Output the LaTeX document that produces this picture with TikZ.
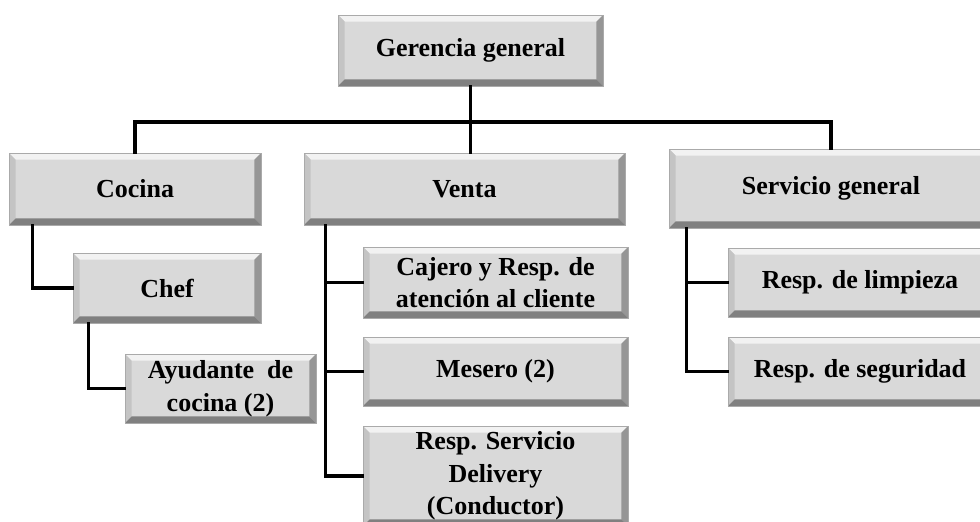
\documentclass[tikz,border=0pt]{standalone}
\usepackage{fontspec}
\setmainfont{Liberation Serif}
\usetikzlibrary{positioning}

\definecolor{boxface}{RGB}{217,217,217}
\definecolor{bevtop}{RGB}{242,242,242}
\definecolor{bevleft}{RGB}{196,196,196}
\definecolor{bevright}{RGB}{150,150,150}
\definecolor{bevbottom}{RGB}{128,128,128}
\definecolor{boxrim}{RGB}{170,170,170}
\newcommand{\bevw}{5pt}

\begin{document}
\begin{tikzpicture}[x=0.75pt,y=-0.75pt]
\tikzset{
  orgbox/.style={draw=boxrim,line width=0.5pt,fill=boxface,inner sep=2pt,align=center,
    font=\bfseries\fontsize{19.5}{24.5}\selectfont,
    path picture={
      \fill[bevtop] (path picture bounding box.north west) -- (path picture bounding box.north east)
        -- ([shift={(-\bevw,-\bevw)}]path picture bounding box.north east)
        -- ([shift={(\bevw,-\bevw)}]path picture bounding box.north west) -- cycle;
      \fill[bevleft] (path picture bounding box.north west) -- (path picture bounding box.south west)
        -- ([shift={(\bevw,\bevw)}]path picture bounding box.south west)
        -- ([shift={(\bevw,-\bevw)}]path picture bounding box.north west) -- cycle;
      \fill[bevright] (path picture bounding box.north east) -- (path picture bounding box.south east)
        -- ([shift={(-\bevw,\bevw)}]path picture bounding box.south east)
        -- ([shift={(-\bevw,-\bevw)}]path picture bounding box.north east) -- cycle;
      \fill[bevbottom] (path picture bounding box.south west) -- (path picture bounding box.south east)
        -- ([shift={(-\bevw,\bevw)}]path picture bounding box.south east)
        -- ([shift={(\bevw,\bevw)}]path picture bounding box.south west) -- cycle;
    }},
  boxsize/.style 2 args={minimum width=#1*0.75pt,minimum height=#2*0.75pt},
  orgline/.style={draw=black,line width=2.4pt,line cap=rect}
}
\useasboundingbox (0,0) rectangle (980,521);
\clip (0,0) rectangle (980,521);
\fill[white] (0,0) rectangle (980,521);

% top level
\node[orgbox,boxsize={265}{71}] (ger) at (470.5,50.5) {Gerencia general};

% departments
\node[orgbox,boxsize={252}{72}] (coc) at (135,189) {Cocina};
\node[orgbox,boxsize={321}{72}] (ven) at (464.5,189) {Venta};
\node[orgbox,boxsize={324}{79}] (ser) at (831,188.5) {Servicio general};

% cocina
\node[orgbox,boxsize={188}{70}] (chef) at (167,288) {Chef};
\node[orgbox,boxsize={191}{69}] (ayu) at (220.5,388.5) {Ayudante\ \ de\\cocina (2)};

% venta
\node[orgbox,boxsize={265}{71}] (caj) at (495.5,282.5) {Cajero y Resp. de\\atención al cliente};
\node[orgbox,boxsize={265}{69}] (mes) at (495.5,371.5) {Mesero (2)};
\node[orgbox,boxsize={265}{100}] (del) at (495.5,476) {Resp. Servicio\\Delivery\\(Conductor)};

% servicio general
\node[orgbox,boxsize={264}{69}] (lim) at (860,282.5) {Resp. de limpieza};
\node[orgbox,boxsize={264}{69}] (seg) at (860,371.5) {Resp. de seguridad};

% connectors
\coordinate (hub) at (ger.south |- 0,122);
\draw[orgline] (ger.south) -- (ger.south |- ven.north);
\draw[orgline] (coc.north) |- (hub) -| (ser.north);

\draw[orgline] (coc.south west) ++(24,0) |- (chef.west);
\draw[orgline] (chef.south west) ++(16,0) |- (ayu.west);

\path (ven.south west) ++(22,0) coordinate (vt);
\draw[orgline] (vt) |- (del.west);
\draw[orgline] (caj.west) -- (caj.west -| vt);
\draw[orgline] (mes.west) -- (mes.west -| vt);

\path (ser.south west) ++(18,0) coordinate (st);
\draw[orgline] (st) |- (seg.west);
\draw[orgline] (lim.west) -- (lim.west -| st);
\end{tikzpicture}
\end{document}
